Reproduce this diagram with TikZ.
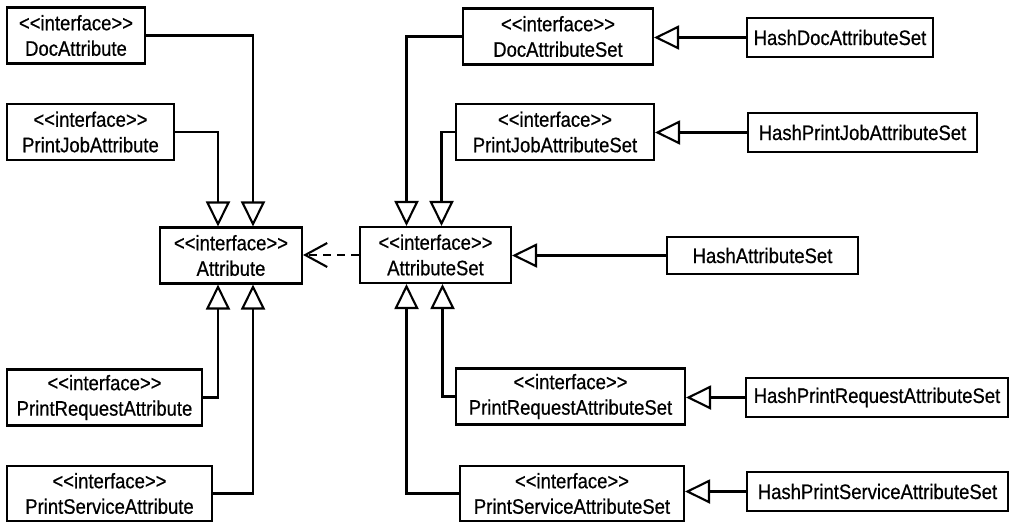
\documentclass[tikz,border=0pt]{standalone}
\usepackage{fontspec}
\setmainfont[Ligatures=TeXOff,FakeStretch=0.88,FakeBold=0.6]{Liberation Sans}
\usetikzlibrary{arrows.meta,positioning}

\begin{document}
\begin{tikzpicture}[
  x=1pt, y=-1pt,
  line width=2.1pt,
  iface/.style={draw, align=center, inner sep=0pt, minimum height=56pt},
  impl/.style={draw, align=center, inner sep=0pt, minimum height=39pt},
  gen/.style={-{Triangle[open, length=25pt, width=24pt, fill=white]}},
  dep/.style={dash pattern=on 8pt off 6pt, -{Straight Barb[length=22pt, width=24pt]}},
  every node/.style={font=\fontsize{21}{25.5}\selectfont}
]
\useasboundingbox (0,0) rectangle (1010,522);

% attribute interfaces
\node[iface, minimum width=138pt] (DocAttr) at (76,35.5) {<<interface>>\\DocAttribute};
\node[iface, minimum width=167pt] (PrintJobAttr) at (90.5,132) {<<interface>>\\PrintJobAttribute};
\node[iface, minimum width=142pt] (Attr) at (231,255.5) {<<interface>>\\Attribute};
\node[iface, minimum width=195pt] (PrintReqAttr) at (104.5,397.5) {<<interface>>\\PrintRequestAttribute};
\node[iface, minimum width=205pt, minimum height=55pt] (PrintSvcAttr) at (109.5,493.5) {<<interface>>\\PrintServiceAttribute};

% attribute set interfaces
\node[iface, minimum width=151pt] (AttrSet) at (435.5,255) {<<interface>>\\AttributeSet};
\node[iface, minimum width=190pt] (DocAttrSet) at (558,36.5) {<<interface>>\\DocAttributeSet};
\node[iface, minimum width=198pt] (PrintJobAttrSet) at (555,132) {<<interface>>\\PrintJobAttributeSet};
\node[iface, minimum width=229pt] (PrintReqAttrSet) at (570.5,396.5) {<<interface>>\\PrintRequestAttributeSet};
\node[iface, minimum width=224pt, minimum height=55pt] (PrintSvcAttrSet) at (572,493.5) {<<interface>>\\PrintServiceAttributeSet};

% hash implementations
\node[impl, minimum width=186pt] (HashDocAttrSet) at (840,37.5) {HashDocAttributeSet};
\node[impl, minimum width=229pt] (HashPrintJobAttrSet) at (862.5,132.5) {HashPrintJobAttributeSet};
\node[impl, minimum width=191pt, minimum height=37pt] (HashAttrSet) at (762.5,255.5) {HashAttributeSet};
\node[impl, minimum width=262pt] (HashPrintReqAttrSet) at (877,397.5) {HashPrintRequestAttributeSet};
\node[impl, minimum width=261pt] (HashPrintSvcAttrSet) at (877.5,491.5) {HashPrintServiceAttributeSet};

\draw[gen] (DocAttr.east) -| ([xshift=22pt]Attr.north);
\draw[gen] (PrintJobAttr.east) -| ([xshift=-13pt]Attr.north);
\draw[gen] (PrintReqAttr.east) -| ([xshift=-13pt]Attr.south);
\draw[gen] (PrintSvcAttr.east) -| ([xshift=22pt]Attr.south);

\draw[dep] (AttrSet.west) -- (AttrSet.west -| Attr.east);

\draw[gen] (DocAttrSet.west) -| ([xshift=-29pt]AttrSet.north);
\draw[gen] (PrintJobAttrSet.west) -| ([xshift=6pt]AttrSet.north);
\draw[gen] (PrintReqAttrSet.west) -| ([xshift=7pt]AttrSet.south);
\draw[gen] (PrintSvcAttrSet.west) -| ([xshift=-29pt]AttrSet.south);

\draw[gen] (HashDocAttrSet.west) -- (HashDocAttrSet.west -| DocAttrSet.east);
\draw[gen] (HashPrintJobAttrSet.west) -- (HashPrintJobAttrSet.west -| PrintJobAttrSet.east);
\draw[gen] (HashAttrSet.west) -- (HashAttrSet.west -| AttrSet.east);
\draw[gen] (HashPrintReqAttrSet.west) -- (HashPrintReqAttrSet.west -| PrintReqAttrSet.east);
\draw[gen] (HashPrintSvcAttrSet.west) -- (HashPrintSvcAttrSet.west -| PrintSvcAttrSet.east);
\end{tikzpicture}
\end{document}
